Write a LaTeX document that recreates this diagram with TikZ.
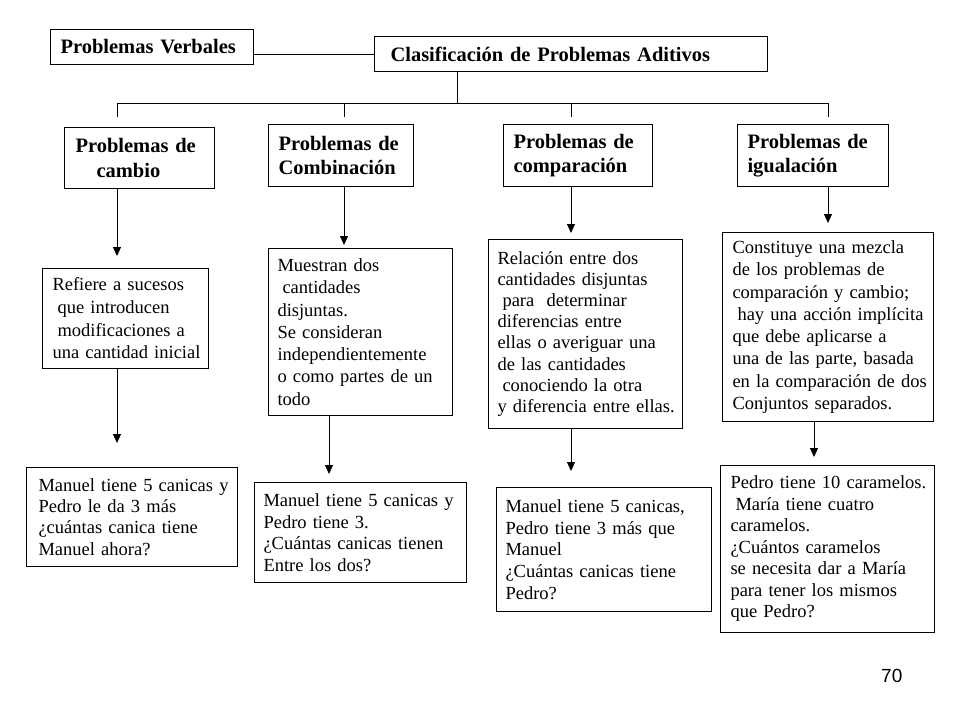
\documentclass[tikz,border=0pt]{standalone}
\usepackage{fontspec}
\setmainfont{Liberation Serif}
\newfontfamily\pagenumfont{Liberation Sans}
\usetikzlibrary{arrows.meta,calc}
\newcommand\ind{\hspace*{5pt}}
\begin{document}
\begin{tikzpicture}[x=1pt,y=-1pt,
  box/.style={draw, line width=1pt, inner ysep=0pt, align=left, anchor=north west,
    execute at begin node={\rightskip=0pt plus 1fil minus 40pt\relax}},
  sz/.style n args={3}{minimum width=#1, minimum height=#2, inner xsep=#3, text width=#1-2*#3},
  head/.style={box, font=\bfseries\fontsize{20.5}{24.5}\selectfont},
  desc/.style={box, font=\fontsize{18.5}{#1}\selectfont},
  link/.style={line width=1pt},
  arr/.style={line width=1pt, -{Triangle[width=8pt,length=9pt]}}
]
\fill[white] (0,0) rectangle (960,720);
\useasboundingbox (0,0) rectangle (960,720);

% headers
\node[head, sz={203}{35}{10}] (pv) at (50,29) {Problemas Verbales};
\node[head, sz={393}{35}{16}] (cl) at (374,36) {Clasificación de Problemas Aditivos};
\node[head, sz={150}{61}{11}] (cambio) at (64,127) {Problemas de\\\hspace*{21pt}cambio};
\node[head, sz={145}{62}{10}] (comb) at (268,124) {Problemas de\\Combinación};
\node[head, sz={149}{62}{10}] (compar) at (503,124) {Problemas de\\comparación};
\node[head, sz={151}{62}{10}] (igual) at (737,124) {Problemas de\\igualación};

% descriptions
\node[desc=22.7, sz={166}{100}{10}] (d1) at (42,268) {Refiere a sucesos\\\ind que introducen\\\ind modificaciones a\\una cantidad inicial};
\node[desc=22.3, sz={184}{167}{9}] (d2) at (268,248) {Muestran dos\\\ind cantidades\\disjuntas.\\Se consideran\\independientemente\\o como partes de un\\todo};
\node[desc=21.1, sz={194}{189}{9}] (d3) at (488,239) {Relación entre dos\\cantidades disjuntas\\\ind para~ determinar\\diferencias entre\\ellas o averiguar una\\de las cantidades\\\ind conociendo la otra\\y diferencia entre ellas.};
\node[desc=22.3, sz={211}{189}{10}] (d4) at (722,232) {Constituye una mezcla\\de los problemas de\\comparación y cambio;\\\ind hay una acción implícita\\que debe aplicarse a\\una de las parte, basada\\en la comparación de dos\\Conjuntos separados.};

% examples
\node[desc=21.2, sz={211}{99}{12}] (e1) at (26,467) {Manuel tiene 5 canicas y\\Pedro le da 3 más\\¿cuántas canica tiene\\Manuel ahora?};
\node[desc=21.5, sz={212}{100}{9}] (e2) at (254,482) {Manuel tiene 5 canicas y\\Pedro tiene 3.\\¿Cuántas canicas tienen\\Entre los dos?};
\node[desc=21.7, sz={215}{124}{9}] (e3) at (496,487) {Manuel tiene 5 canicas,\\Pedro tiene 3 más que\\Manuel\\¿Cuántas canicas tiene\\Pedro?};
\node[desc=21.5, sz={214}{167}{10}] (e4) at (720,465) {Pedro tiene 10 caramelos.\\\ind María tiene cuatro\\caramelos.\\¿Cuántos caramelos\\se necesita dar a María\\para tener los mismos\\que Pedro?};

\node[font=\pagenumfont\fontsize{19}{22}\selectfont, anchor=north west, inner sep=0pt] (pg) at (881,669) {70};

% tree connectors
\draw[link] (pv.east |- cl.west) -- (cl.west);
\coordinate (clb) at ($(cl.south west)+(83,0)$);
\coordinate (b1) at (117,103);
\coordinate (b2) at (344,103);
\coordinate (b3) at (571,103);
\coordinate (b4) at (828,103);
\draw[link] (clb) -- (clb |- b1);
\draw[link] (b1) -- (b4);
\foreach \i in {1,...,4} \draw[link] (b\i) -- ++(0,14);

% arrows
\coordinate (c2) at (329,0);
\coordinate (c4) at (814,0);
\draw[arr, shorten >=12pt] (cambio.south -| b1) -- (d1.north -| b1);
\draw[arr, shorten >=24pt] (d1.south -| b1) -- (e1.north -| b1);
\draw[arr, shorten >=3pt] (comb.south -| b2) -- (d2.north -| b2);
\draw[arr, shorten >=8pt] (d2.south -| c2) -- (e2.north -| c2);
\draw[arr, shorten >=6pt] (compar.south -| b3) -- (d3.north -| b3);
\draw[arr, shorten >=16pt] (d3.south -| b3) -- (e3.north -| b3);
\draw[arr, shorten >=9pt] (igual.south -| b4) -- (d4.north -| b4);
\draw[arr, shorten >=8pt] (d4.south -| c4) -- (e4.north -| c4);
\end{tikzpicture}
\end{document}
